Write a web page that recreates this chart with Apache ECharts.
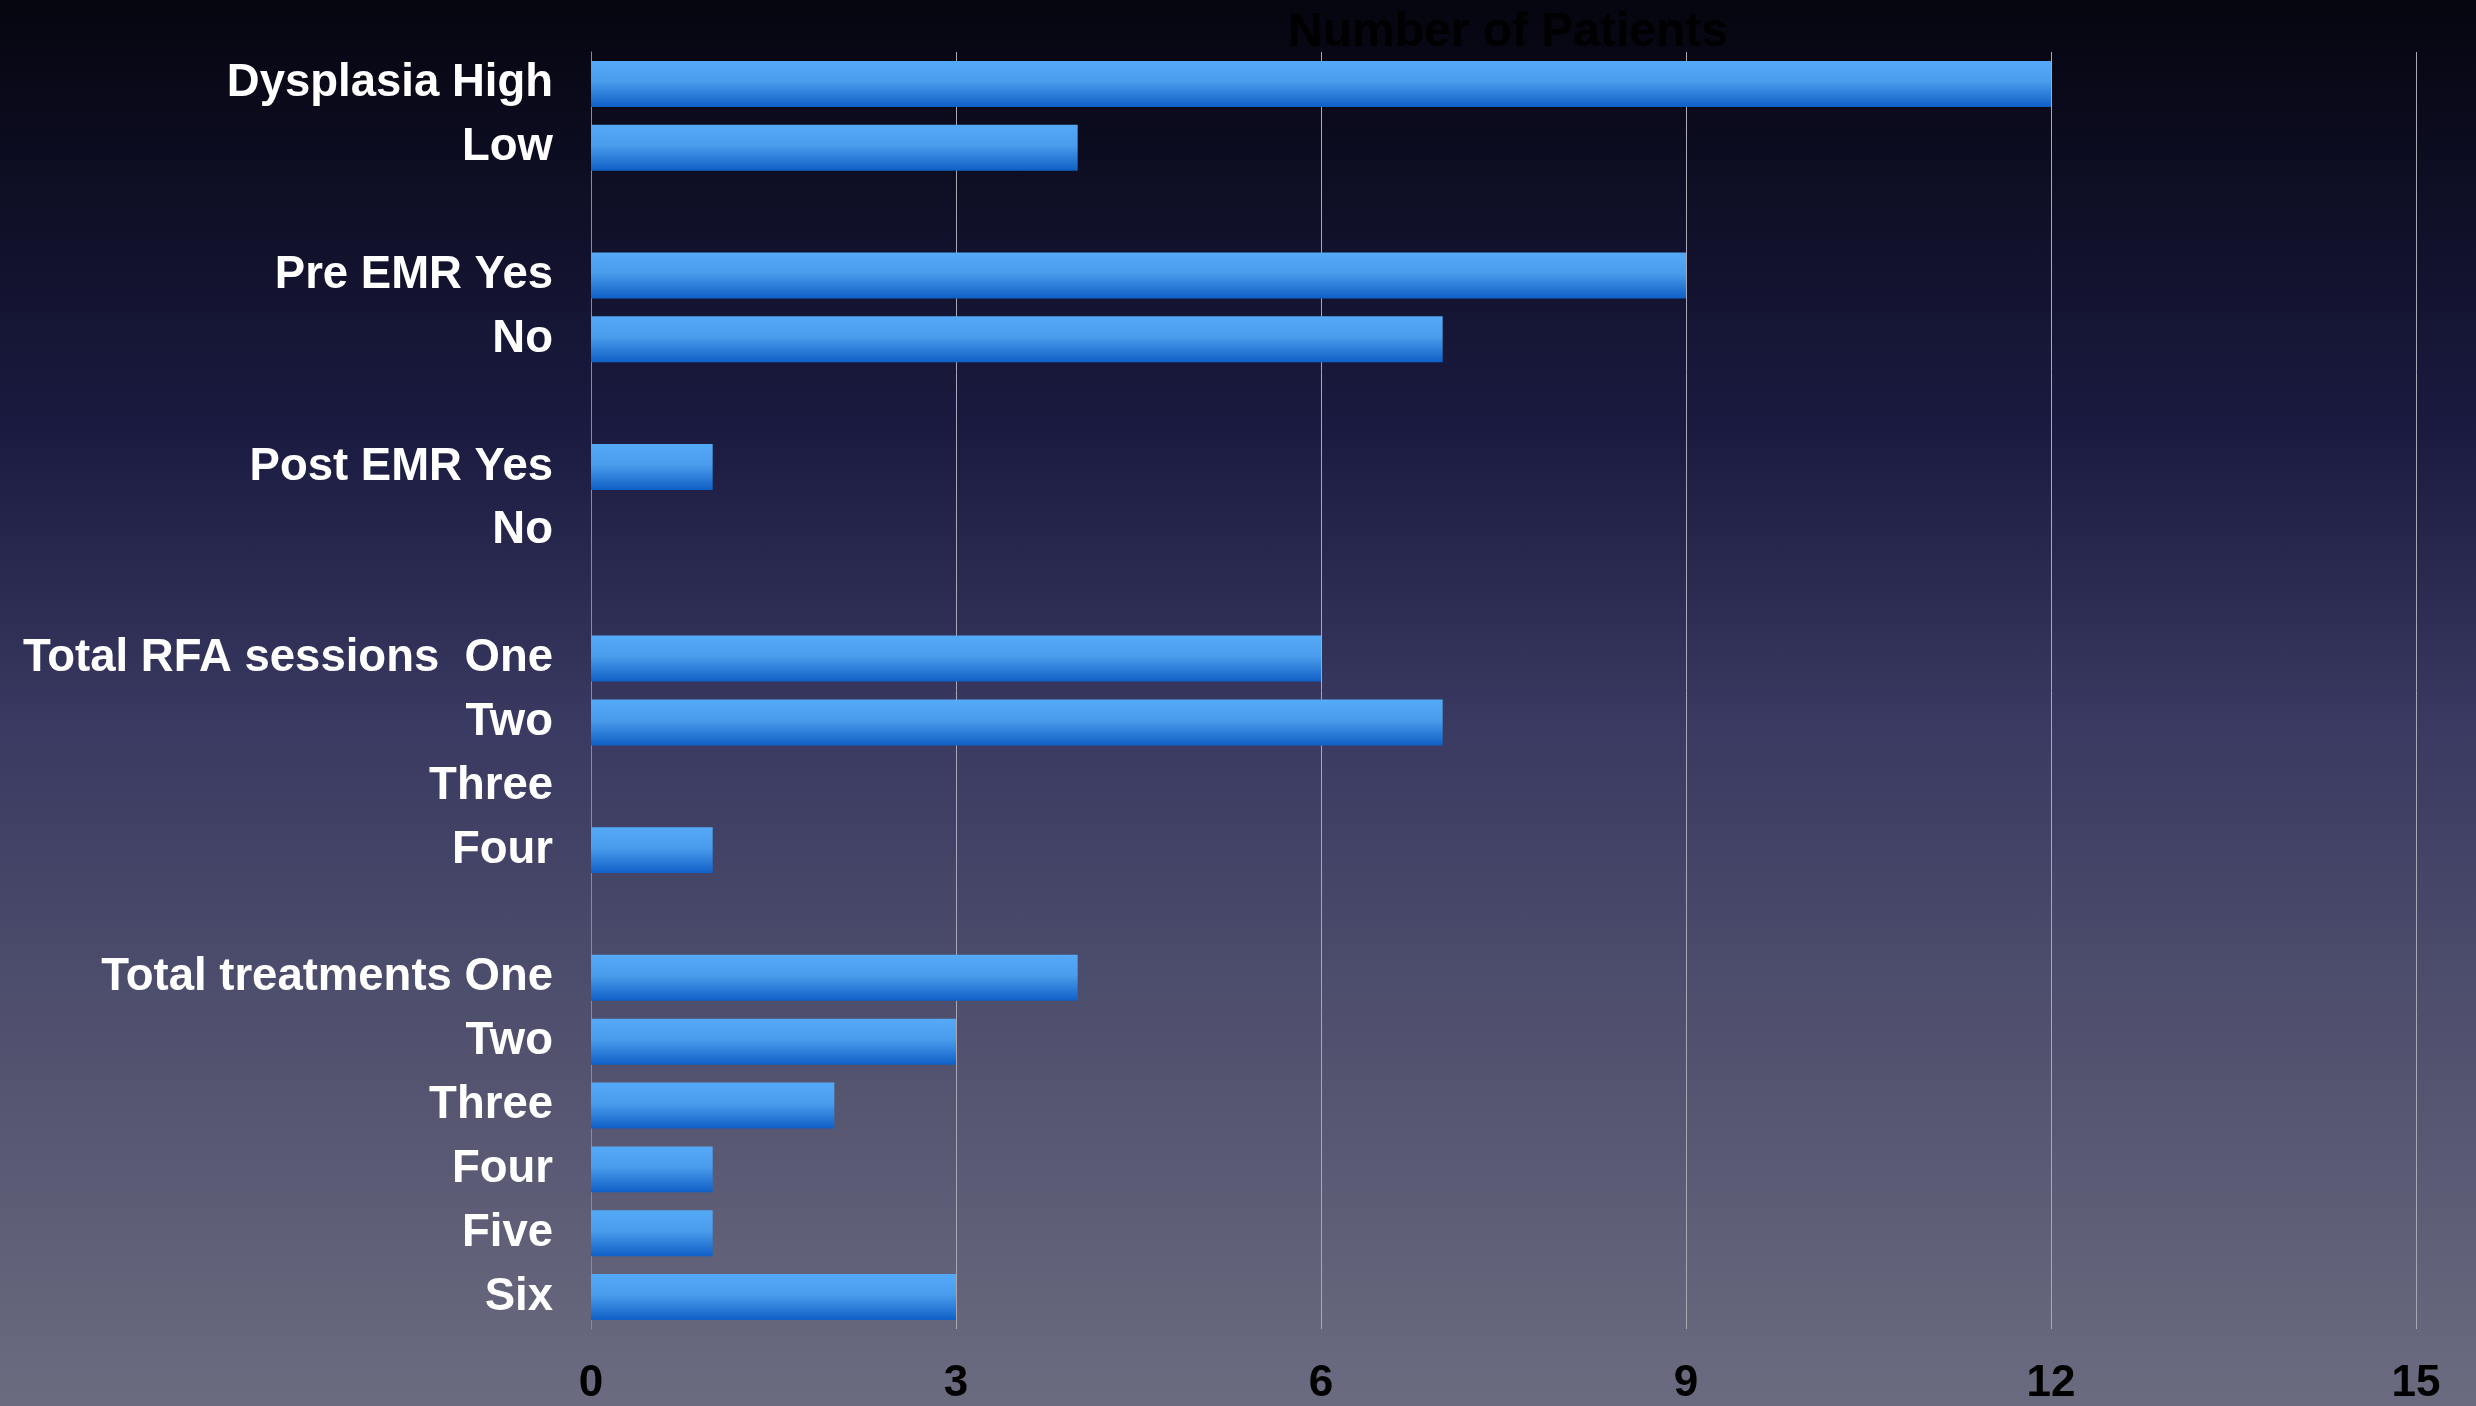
<!DOCTYPE html>
<html>
<head>
<meta charset="utf-8">
<script src="https://cdn.jsdelivr.net/npm/echarts@6/dist/echarts.min.js"></script>
<style>
  html, body { margin: 0; padding: 0; }
  #main { width: 2476px; height: 1406px;
    background: linear-gradient(to bottom, #05050f 0%, #1a1a40 30%, #3a3a62 52%, #52526f 75%, #6b6b80 100%); }
</style>
</head>
<body>
<div id="main"></div>
<script>
// rows top -> bottom, '' = spacer row between groups
var categories = [
  'Dysplasia High', 'Low', '',
  'Pre EMR Yes', 'No', '',
  'Post EMR Yes', 'No', '',
  'Total RFA sessions  One', 'Two', 'Three', 'Four', '',
  'Total treatments One', 'Two', 'Three', 'Four', 'Five', 'Six'
];
var patients = [
  12, 4, null,
  9, 7, null,
  1, 0, null,
  6, 7, 0, 1, null,
  4, 3, 2, 1, 1, 3
];
var xTicks = [0, 3, 6, 9, 12, 15];

var myChart = echarts.init(document.getElementById('main'));

option = {
  backgroundColor: 'transparent',
  animation: false,
  title: {
    text: 'Number of Patients',
    left: 1503,
    top: 4,
    textAlign: 'center',
    textStyle: {
      color: '#000',
      fontFamily: 'Liberation Sans, Arial, sans-serif',
      fontWeight: 'bold',
      fontSize: 48
    }
  },
  grid: {
    left: 591,
    right: 60,
    top: 52,
    bottom: 66,
    containLabel: false
  },
  xAxis: {
    type: 'value',
    min: 0,
    max: 15,
    interval: 3,
    axisLine: { show: false },
    axisTick: { show: false },
    splitLine: { show: true, lineStyle: { color: '#a8a8b4', width: 1 } },
    axisLabel: {
      color: '#000',
      fontFamily: 'Liberation Sans, Arial, sans-serif',
      fontWeight: 'bold',
      fontSize: 44,
      margin: 33,
      formatter: function(v) { return xTicks.indexOf(v) >= 0 ? String(v) : ''; }
    }
  },
  yAxis: {
    type: 'category',
    inverse: true,
    data: categories,
    axisLine: { show: true, lineStyle: { color: '#8a8a98', width: 1 } },
    axisTick: { show: false },
    axisLabel: {
      color: '#fff',
      fontFamily: 'Liberation Sans, Arial, sans-serif',
      fontWeight: 'bold',
      fontSize: 45.5,
      margin: 38,
      interval: 0
    }
  },
  series: [{
    type: 'bar',
    data: patients,
    barCategoryGap: '28%',
    itemStyle: {
      color: new echarts.graphic.LinearGradient(0, 0, 0, 1, [
        { offset: 0, color: '#55aaf8' },
        { offset: 0.45, color: '#4a9cec' },
        { offset: 1, color: '#0f60c6' }
      ])
    }
  }]
};
myChart.setOption(option);
</script>
</body>
</html>
